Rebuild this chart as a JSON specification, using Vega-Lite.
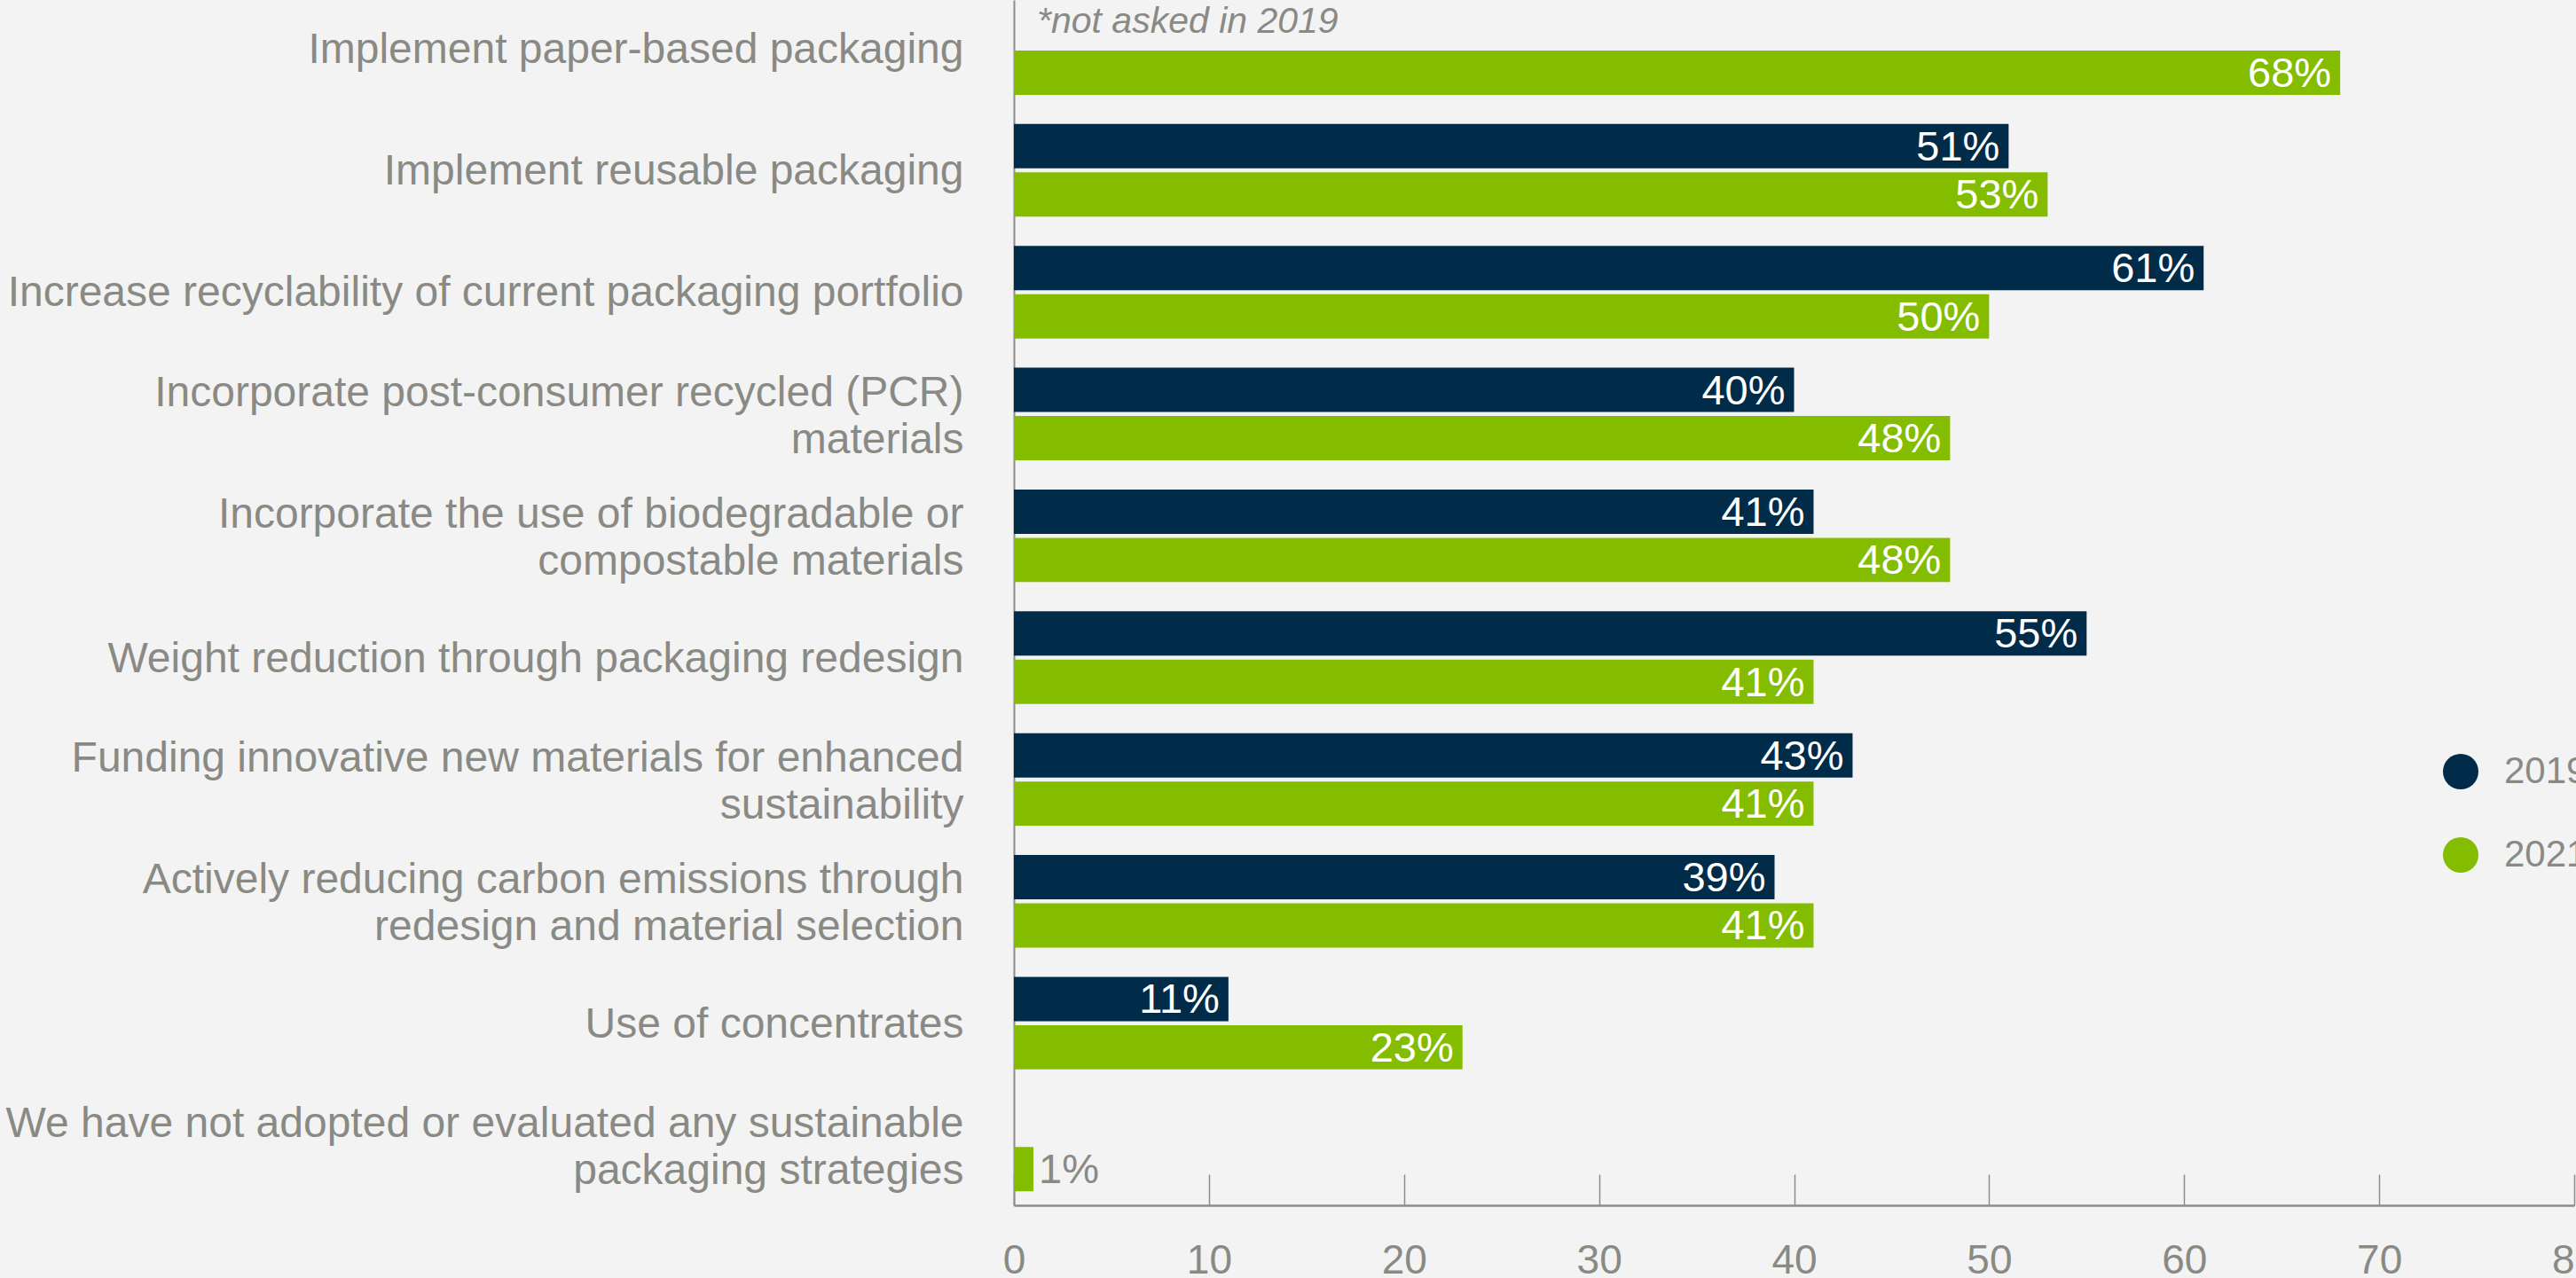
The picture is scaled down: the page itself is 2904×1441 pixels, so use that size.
{
  "$schema": "https://vega.github.io/schema/vega-lite/v6.json",
  "width": 1759,
  "height": 1359,
  "autosize": {"type": "none"},
  "padding": {"left": 1143, "top": 0, "right": 2, "bottom": 82},
  "background": "#f3f3f4",
  "config": {"view": {"stroke": null}, "font": "Liberation Sans"},
  "encoding": {
    "y": {
      "field": "strategy",
      "type": "nominal",
      "sort": [
        "Implement paper-based packaging",
        "Implement reusable packaging",
        "Increase recyclability of current packaging portfolio",
        "Incorporate post-consumer recycled (PCR)|materials",
        "Incorporate the use of biodegradable or|compostable materials",
        "Weight reduction through packaging redesign",
        "Funding innovative new materials for enhanced|sustainability",
        "Actively reducing carbon emissions through|redesign and material selection",
        "Use of concentrates",
        "We have not adopted or evaluated any sustainable|packaging strategies"
      ],
      "scale": {"paddingInner": 0.24, "paddingOuter": 0.0666, "align": 0.137},
      "axis": {
        "title": null,
        "ticks": false,
        "domainColor": "#8c8c8a",
        "domainWidth": 2,
        "labelFont": "Liberation Sans",
        "labelFontSize": 48,
        "labelColor": "#8a8a85",
        "labelPadding": 57,
        "labelLimit": 1200,
        "labelLineHeight": 53,
        "labelOffset": {"condition": {"test": "indexof(datum.value, '|') >= 0", "value": -23}, "value": 2},
        "labelExpr": "split(datum.label, '|')"
      }
    },
    "yOffset": {
      "field": "year",
      "type": "nominal",
      "scale": {"domain": ["2019", "2021"], "paddingInner": 0.0826, "paddingOuter": 0}
    }
  },
  "layer": [
    {
      "data": {"name": "bars", "values": [
        {"strategy": "Implement paper-based packaging", "year": "2021", "pct": 68, "label": "68%"},
        {"strategy": "Implement reusable packaging", "year": "2019", "pct": 51, "label": "51%"},
        {"strategy": "Implement reusable packaging", "year": "2021", "pct": 53, "label": "53%"},
        {"strategy": "Increase recyclability of current packaging portfolio", "year": "2019", "pct": 61, "label": "61%"},
        {"strategy": "Increase recyclability of current packaging portfolio", "year": "2021", "pct": 50, "label": "50%"},
        {"strategy": "Incorporate post-consumer recycled (PCR)|materials", "year": "2019", "pct": 40, "label": "40%"},
        {"strategy": "Incorporate post-consumer recycled (PCR)|materials", "year": "2021", "pct": 48, "label": "48%"},
        {"strategy": "Incorporate the use of biodegradable or|compostable materials", "year": "2019", "pct": 41, "label": "41%"},
        {"strategy": "Incorporate the use of biodegradable or|compostable materials", "year": "2021", "pct": 48, "label": "48%"},
        {"strategy": "Weight reduction through packaging redesign", "year": "2019", "pct": 55, "label": "55%"},
        {"strategy": "Weight reduction through packaging redesign", "year": "2021", "pct": 41, "label": "41%"},
        {"strategy": "Funding innovative new materials for enhanced|sustainability", "year": "2019", "pct": 43, "label": "43%"},
        {"strategy": "Funding innovative new materials for enhanced|sustainability", "year": "2021", "pct": 41, "label": "41%"},
        {"strategy": "Actively reducing carbon emissions through|redesign and material selection", "year": "2019", "pct": 39, "label": "39%"},
        {"strategy": "Actively reducing carbon emissions through|redesign and material selection", "year": "2021", "pct": 41, "label": "41%"},
        {"strategy": "Use of concentrates", "year": "2019", "pct": 11, "label": "11%"},
        {"strategy": "Use of concentrates", "year": "2021", "pct": 23, "label": "23%"},
        {"strategy": "We have not adopted or evaluated any sustainable|packaging strategies", "year": "2021", "pct": 1, "label": "1%"}
      ]},
      "layer": [
        {
          "mark": {"type": "bar", "cornerRadius": 0},
          "encoding": {
            "x": {
              "field": "pct",
              "type": "quantitative",
              "scale": {"domain": [0, 80], "nice": false},
              "axis": {
                "title": null,
                "grid": false,
                "values": [0, 10, 20, 30, 40, 50, 60, 70, 80],
                "tickSize": -35,
                "tickWidth": 1.5,
                "tickColor": "#8c8c8a",
                "domainColor": "#8c8c8a",
                "domainWidth": 2.5,
                "labelFont": "Liberation Sans",
                "labelFontSize": 46,
                "labelColor": "#8a8a85",
                "labelPadding": 75,
                "labelFlush": false,
                "labelOverlap": false,
                "labelBound": false
              }
            },
            "color": {
              "field": "year",
              "type": "nominal",
              "scale": {"domain": ["2019", "2021"], "range": ["#002b49", "#84bd00"]},
              "legend": {
                "title": null,
                "orient": "none",
                "legendX": 1610,
                "legendY": 849,
                "symbolType": "circle",
                "symbolSize": 1600,
                "symbolStrokeWidth": 0,
                "symbolOpacity": 1,
                "labelFont": "Liberation Sans",
                "labelFontSize": 42,
                "labelColor": "#8a8a85",
                "labelOffset": 28,
                "rowPadding": 52
              }
            }
          }
        },
        {
          "transform": [{"filter": "datum.pct >= 5"}],
          "mark": {"type": "text", "align": "right", "baseline": "middle", "dx": -10, "dy": 2, "fontSize": 47, "color": "#ffffff", "font": "Liberation Sans"},
          "encoding": {
            "x": {"field": "pct", "type": "quantitative"},
            "text": {"field": "label"}
          }
        },
        {
          "transform": [{"filter": "datum.pct < 5"}],
          "mark": {"type": "text", "align": "left", "baseline": "middle", "dx": 6, "dy": 2, "fontSize": 47, "color": "#8a8a85", "font": "Liberation Sans"},
          "encoding": {
            "x": {"field": "pct", "type": "quantitative"},
            "text": {"field": "label"}
          }
        }
      ]
    },
    {
      "data": {"values": [
        {"strategy": "Implement paper-based packaging", "year": "2019", "pct": 0, "note": "*not asked in 2019"}
      ]},
      "mark": {"type": "text", "align": "left", "baseline": "middle", "dx": 26, "dy": -2, "fontSize": 41, "fontStyle": "italic", "color": "#8a8a85", "font": "Liberation Sans"},
      "encoding": {
        "x": {"field": "pct", "type": "quantitative"},
        "text": {"field": "note"}
      }
    }
  ]
}
